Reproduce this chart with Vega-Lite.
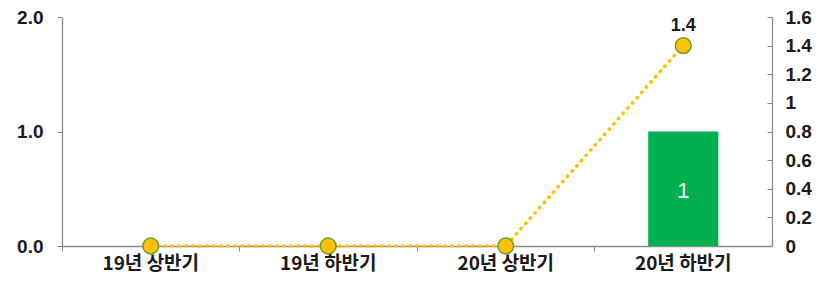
{
  "$schema": "https://vega.github.io/schema/vega-lite/v6.json",
  "width": 710,
  "height": 229,
  "autosize": {"type": "none"},
  "padding": {"left": 62, "top": 17, "right": 54, "bottom": 36},
  "background": "white",
  "config": {"view": {"stroke": null}, "font": "Liberation Sans"},
  "data": {
    "values": [
      {"period": "19년 상반기", "count": 0, "ratio": 0},
      {"period": "19년 하반기", "count": 0, "ratio": 0},
      {"period": "20년 상반기", "count": 0, "ratio": 0},
      {"period": "20년 하반기", "count": 1, "ratio": 1.4}
    ]
  },
  "encoding": {
    "x": {
      "field": "period", "type": "nominal", "sort": null,
      "scale": {"paddingInner": 0, "paddingOuter": 0},
      "axis": {
        "title": null, "labelAngle": 0, "labelFont": "Noto Sans CJK KR", "labelFontSize": 19, "labelFontWeight": "bold",
        "labelColor": "#1a1a1a", "labelPadding": 3, "domainColor": "#8a8a8a", "tickColor": "#8a8a8a",
        "tickSize": 5, "bandPosition": 0, "domainWidth": 1.3
      }
    }
  },
  "layer": [
    {
      "mark": {"type": "bar", "color": "#00B050", "width": {"band": 0.395}},
      "encoding": {
        "y": {
          "field": "count", "type": "quantitative",
          "scale": {"domain": [0, 2], "nice": false},
          "axis": {
            "title": null, "values": [0, 1, 2], "format": ".1f", "orient": "left",
            "labelFontSize": 19, "labelFontWeight": "bold", "labelColor": "#1a1a1a",
            "labelPadding": 14, "domainColor": "#8a8a8a", "tickColor": "#8a8a8a", "tickSize": 5, "grid": false, "domainWidth": 1.3
          }
        }
      }
    },
    {
      "transform": [{"filter": "datum.count > 0"}],
      "mark": {"type": "text", "color": "white", "fontSize": 22, "baseline": "middle", "dy": 59},
      "encoding": {
        "y": {"field": "count", "type": "quantitative", "scale": {"domain": [0, 2], "nice": false}, "axis": null},
        "text": {"field": "count", "type": "quantitative"}
      }
    },
    {
      "mark": {"type": "line", "color": "#FFC000", "strokeWidth": 3.5, "strokeDash": [0.5, 6.5], "strokeCap": "round"},
      "encoding": {
        "y": {
          "field": "ratio", "type": "quantitative",
          "scale": {"domain": [0, 1.6], "nice": false},
          "axis": {
            "title": null, "orient": "right", "values": [0, 0.2, 0.4, 0.6, 0.8, 1, 1.2, 1.4, 1.6],
            "format": "~g", "labelFontSize": 19, "labelFontWeight": "bold", "labelColor": "#1a1a1a",
            "labelPadding": 18, "domainColor": "#8a8a8a", "tickColor": "#8a8a8a", "tickSize": -5, "grid": false, "domainWidth": 1.3
          }
        }
      }
    },
    {
      "mark": {"type": "point", "filled": true, "fill": "#FFC000", "stroke": "#6E9B2A", "strokeWidth": 1.5, "size": 250, "opacity": 1},
      "encoding": {
        "y": {"field": "ratio", "type": "quantitative", "scale": {"domain": [0, 1.6], "nice": false}, "axis": null}
      }
    },
    {
      "transform": [{"filter": "datum.ratio > 0"}],
      "mark": {"type": "text", "color": "#1a1a1a", "fontSize": 18, "fontWeight": "bold", "dy": -20, "baseline": "middle"},
      "encoding": {
        "y": {"field": "ratio", "type": "quantitative", "scale": {"domain": [0, 1.6], "nice": false}, "axis": null},
        "text": {"field": "ratio", "type": "quantitative", "format": ".1f"}
      }
    }
  ],
  "resolve": {"scale": {"y": "independent"}}
}
